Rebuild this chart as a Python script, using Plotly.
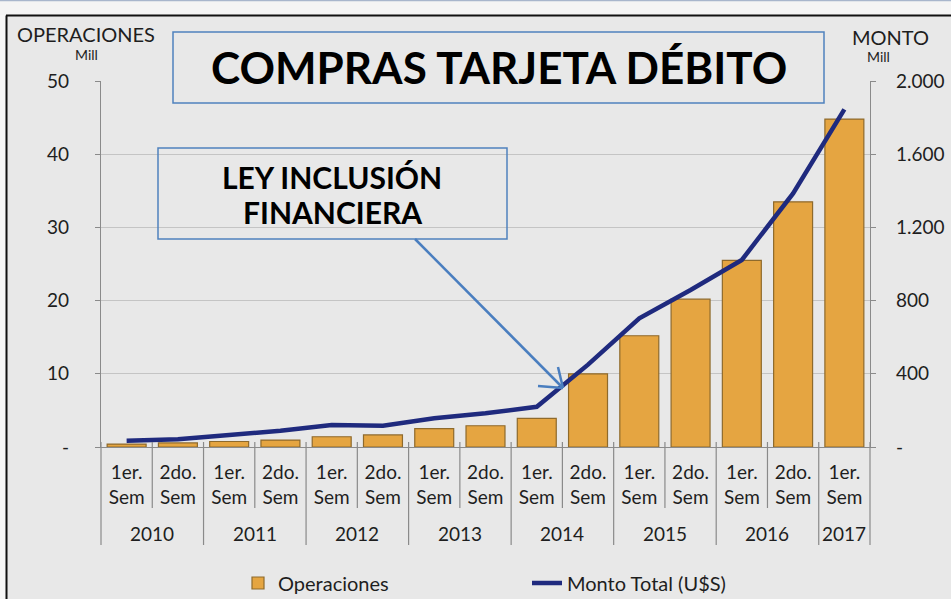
import plotly.graph_objects as go

# ---------------- data ----------------
years = ["2010", "2010", "2011", "2011", "2012", "2012", "2013", "2013",
         "2014", "2014", "2015", "2015", "2016", "2016", "2017"]
semesters = ["1er.<br>Sem", "2do.<br>Sem"] * 7 + ["1er.<br>Sem"]
operaciones = [0.4, 0.55, 0.75, 0.95, 1.4, 1.65, 2.5, 2.9, 3.9,
               10.0, 15.2, 20.2, 25.5, 33.5, 44.8]          # millones
monto = [34, 42, 65, 89, 120, 116, 157, 184, 220,
         450, 703, 858, 1022, 1386, 1845]                     # millones U$S

left_ticks = [0, 10, 20, 30, 40, 50]
left_labels = ["-", "10", "20", "30", "40", "50"]
right_ticks = [0, 400, 800, 1200, 1600, 2000]
right_labels = ["-", "400", "800", "1.200", "1.600", "2.000"]

# unique category keys (year + semester)
keys = [f"{y} {s}" for y, s in zip(years, semesters)]

# ---------------- geometry helpers (pixel -> paper) ----------------
W, H = 951, 599
ML, MR, MT, MB = 101, 81, 81, 152
PW, PH = W - ML - MR, H - MT - MB


def px(x):
    return (x - ML) / PW


def py(y):
    return (H - MB - y) / PH


FONT = "Lato, 'Open Sans', sans-serif"
BG = "#e8e8e8"
TXT = "#1e1e1e"
AXC = "#8a8a8a"

fig = go.Figure()
fig.add_trace(go.Bar(
    x=keys, y=operaciones, name="Operaciones",
    marker=dict(color="#E5A541", line=dict(color="#8E6A2C", width=1.2)),
    yaxis="y",
))
fig.add_trace(go.Scatter(
    x=keys, y=monto, name="Monto Total (U$S)",
    mode="lines", line=dict(color="#1F2A7E", width=4.5),
    yaxis="y2",
))

shapes = []
# outer frame / screenshot edges
shapes.append(dict(type="rect", xref="paper", yref="paper", x0=px(-10), x1=px(W + 10),
                   y0=py(15), y1=py(-10), fillcolor="#f4f4f4", line=dict(width=0), layer="below"))
shapes.append(dict(type="rect", xref="paper", yref="paper", x0=px(-10), x1=px(6),
                   y0=py(H + 10), y1=py(15), fillcolor="#f7f7f7", line=dict(width=0), layer="below"))
shapes.append(dict(type="line", xref="paper", yref="paper", x0=px(0), x1=px(W + 10),
                   y0=py(0.5), y1=py(0.5), line=dict(color="#a8b6cc", width=1.5)))
shapes.append(dict(type="line", xref="paper", yref="paper", x0=px(6), x1=px(W + 10),
                   y0=py(15.5), y1=py(15.5), line=dict(color="#111111", width=2)))
shapes.append(dict(type="line", xref="paper", yref="paper", x0=px(6.5), x1=px(6.5),
                   y0=py(15.5), y1=py(H + 10), line=dict(color="#111111", width=2)))

# category dividers below the axis: short between semesters, long between years
n = len(operaciones)
for i in range(n + 1):
    year_edge = i == 0 or i == n or years[i] != years[i - 1]
    shapes.append(dict(type="line", xref="paper", yref="paper",
                       x0=i / n, x1=i / n, y0=py(442), y1=py(545 if year_edge else 508),
                       line=dict(color=AXC, width=1.2)))

# title box
shapes.append(dict(type="rect", xref="paper", yref="paper", x0=px(173), x1=px(824),
                   y0=py(103), y1=py(32), line=dict(color="#4F81BD", width=1.5)))
# law box
shapes.append(dict(type="rect", xref="paper", yref="paper", x0=px(158), x1=px(507),
                   y0=py(239), y1=py(148), line=dict(color="#4F81BD", width=1.5)))
# arrow
ac = "#4A7EBF"
shapes.append(dict(type="line", xref="paper", yref="paper", x0=px(415), y0=py(239),
                   x1=px(562), y1=py(387), line=dict(color=ac, width=2.5)))
shapes.append(dict(type="line", xref="paper", yref="paper", x0=px(563), y0=py(388),
                   x1=px(558), y1=py(367), line=dict(color=ac, width=2.5)))
shapes.append(dict(type="line", xref="paper", yref="paper", x0=px(563), y0=py(388),
                   x1=px(538), y1=py(386), line=dict(color=ac, width=2.5)))


def note(text, x, y, size, bold=False, xr="pixel"):
    return dict(text=f"<b>{text}</b>" if bold else text,
                x=px(x) if xr == "pixel" else x, y=py(y),
                xref="paper", yref="paper", showarrow=False,
                font=dict(family=FONT, size=size, color="#000000" if bold else TXT),
                xanchor="center", yanchor="middle")


annotations = [
    note("COMPRAS TARJETA DÉBITO", 499, 67, 44, bold=True),
    note("LEY INCLUSIÓN", 332, 177, 30, bold=True),
    note("FINANCIERA", 332, 212, 30, bold=True),
    note("OPERACIONES", 86, 34, 20),
    note("Mill", 86, 55, 14),
    note("MONTO", 890, 37, 20),
    note("Mill", 878, 57, 14),
]

# year labels centred under their semesters
for yr in dict.fromkeys(years):
    idx = [i for i, y in enumerate(years) if y == yr]
    centre = (sum(idx) / len(idx) + 0.5) / n
    annotations.append(note(yr, centre, 533, 19, xr="paper"))

fig.update_layout(
    width=W, height=H,
    margin=dict(l=ML, r=MR, t=MT, b=MB, autoexpand=False),
    paper_bgcolor=BG, plot_bgcolor=BG,
    font=dict(family=FONT, size=19, color=TXT),
    bargap=0.24,
    showlegend=True,
    legend=dict(orientation="h", x=px(238), y=py(583), xanchor="left", yanchor="middle",
                font=dict(family=FONT, size=20, color=TXT),
                entrywidth=244, entrywidthmode="pixels", bgcolor="rgba(0,0,0,0)"),
    xaxis=dict(
        type="category", tickmode="array", tickvals=keys, ticktext=semesters,
        showline=True, linecolor=AXC, linewidth=1.2,
        ticks="outside", ticklen=8, tickcolor="rgba(0,0,0,0)", showgrid=False,
        tickfont=dict(family=FONT, size=19, color=TXT), tickangle=0,
    ),
    yaxis=dict(
        range=[0, 50], tickvals=left_ticks, ticktext=left_labels,
        showline=True, linecolor=AXC, linewidth=1.2,
        ticks="outside", ticklen=5, tickcolor=AXC,
        showgrid=True, gridcolor="#c4c4c4", gridwidth=1.2,
        zeroline=False, ticklabelstandoff=22,
        tickfont=dict(family=FONT, size=19, color=TXT),
    ),
    yaxis2=dict(
        range=[0, 2000], tickvals=right_ticks, ticktext=right_labels,
        overlaying="y", side="right",
        showline=True, linecolor=AXC, linewidth=1.2,
        ticks="outside", ticklen=5, tickcolor=AXC,
        showgrid=False, zeroline=False, ticklabelstandoff=16,
        tickfont=dict(family=FONT, size=19, color=TXT),
    ),
    shapes=shapes,
    annotations=annotations,
)

fig.write_html("out.html", config={"displayModeBar": False},
               post_script="document.body.style.margin='0';")
